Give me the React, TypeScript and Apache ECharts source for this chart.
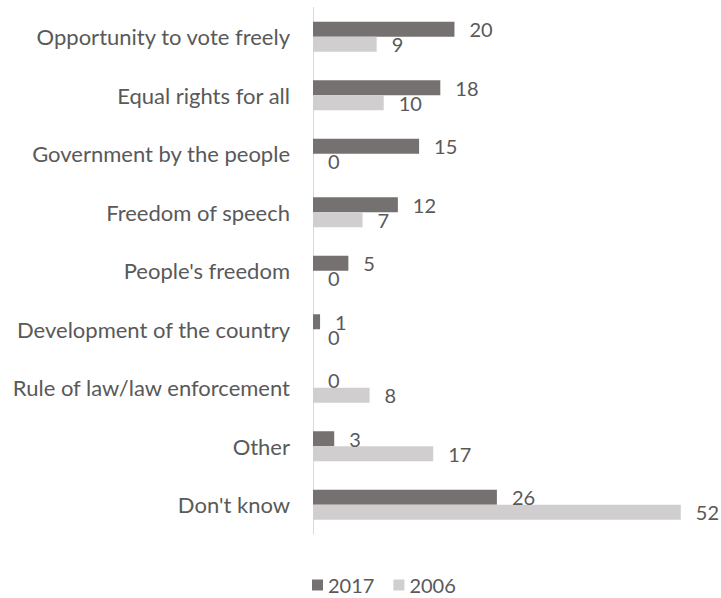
import React, { useEffect, useRef } from "react";
import * as echarts from "echarts";

const categories = [
  "Opportunity to vote freely",
  "Equal rights for all",
  "Government by the people",
  "Freedom of speech",
  "People's freedom",
  "Development of the country",
  "Rule of law/law enforcement",
  "Other",
  "Don't know",
];
const values2017 = [20, 18, 15, 12, 5, 1, 0, 3, 26];
const values2006 = [9, 10, 0, 7, 0, 0, 8, 17, 52];

const FONT = "Lato, 'Open Sans', sans-serif";
const TEXT = "#595959";

export default function App() {
  const ref = useRef<HTMLDivElement>(null);
  useEffect(() => {
    if (!ref.current) return;
    const chart = echarts.init(ref.current, undefined, { renderer: "svg" });
    const label = {
      show: true,
      position: "right" as const,
      distance: 15,
      color: TEXT,
      fontSize: 20,
      fontFamily: FONT,
    };
    chart.setOption({
      animation: false,
      textStyle: { fontFamily: FONT },
      grid: { left: 313, top: 7.5, width: 389, bottom: 64, containLabel: false },
      legend: {
        top: 575,
        left: 312,
        padding: 0,
        itemWidth: 11,
        itemHeight: 11,
        itemGap: 19,
        icon: "rect",
        textStyle: { color: TEXT, fontSize: 20, fontFamily: FONT },
        data: ["2017", "2006"],
      },
      xAxis: {
        type: "value",
        min: 0,
        max: 55,
        show: false,
        splitLine: { show: false },
      },
      yAxis: {
        type: "category",
        inverse: true,
        data: categories,
        axisLine: { show: true, lineStyle: { color: "#d9d9d9", width: 1 } },
        axisTick: { show: false },
        axisLabel: { color: TEXT, fontSize: 22, fontFamily: FONT, margin: 23 },
      },
      series: [
        {
          name: "2017",
          type: "bar",
          data: values2017,
          barWidth: 15,
          barGap: "0%",
          itemStyle: { color: "#767171" },
          label,
        },
        {
          name: "2006",
          type: "bar",
          data: values2006,
          barWidth: 15,
          barGap: "0%",
          itemStyle: { color: "#D0CECE" },
          label,
        },
      ],
    });
    return () => chart.dispose();
  }, []);
  return (
    <div
      ref={ref}
      style={{ position: "absolute", left: 0, top: 0, width: 721, height: 598 }}
    />
  );
}
